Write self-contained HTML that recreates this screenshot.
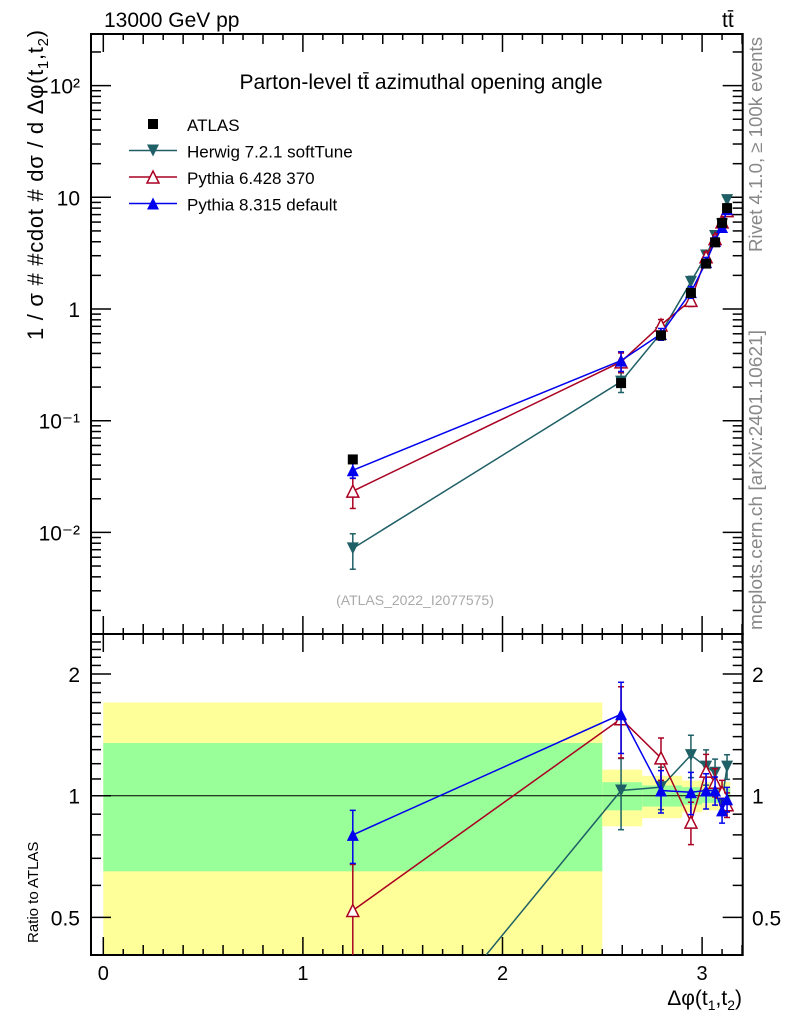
<!DOCTYPE html>
<html><head><meta charset="utf-8">
<style>
html,body{margin:0;padding:0;background:#fff;width:786px;height:1024px;overflow:hidden;}
svg{display:block;font-family:"Liberation Sans",sans-serif;}
</style></head>
<body>
<div style="position:relative;width:786px;height:1024px;overflow:hidden;">
<svg id="chart" width="786" height="1024" viewBox="0 0 786 1024" xmlns="http://www.w3.org/2000/svg" style="position:absolute;left:0;top:0;">
<g id="bands"></g>
<g id="axes"></g>
<g id="series"></g>
<g id="texts"></g>
<text x="104" y="27" font-size="21">13000 GeV pp</text>
<text x="722" y="27" font-size="21">tt̄</text>
<text x="421" y="89" font-size="21" text-anchor="middle">Parton-level tt̄ azimuthal opening angle</text>
<text x="415" y="605" font-size="14" fill="#aaa" text-anchor="middle">(ATLAS_2022_I2077575)</text>
<text transform="translate(43,340) rotate(-90)" x="0" y="0" font-size="22" textLength="310" lengthAdjust="spacing">1 / σ # #cdot # dσ / d Δφ(t<tspan font-size="15" dy="5">1</tspan><tspan dy="-5">,t</tspan><tspan font-size="15" dy="5">2</tspan><tspan dy="-5">)</tspan></text>
<text transform="translate(38,943) rotate(-90)" font-size="15">Ratio to ATLAS</text>
<text x="742" y="1005" font-size="21" text-anchor="end">Δφ(t<tspan font-size="14" dy="5">1</tspan><tspan dy="-5">,t</tspan><tspan font-size="14" dy="5">2</tspan><tspan dy="-5">)</tspan></text>
<text transform="translate(762,252) rotate(-90)" font-size="18" fill="#888" textLength="215" lengthAdjust="spacingAndGlyphs">Rivet 4.1.0, ≥ 100k events</text>
<text transform="translate(762,630) rotate(-90)" font-size="18" fill="#888" textLength="300" lengthAdjust="spacingAndGlyphs">mcplots.cern.ch [arXiv:2401.10621]</text>
</svg>
</div>
<script>
// ---- data ----
const xVals = [1.25, 2.594, 2.794, 2.944, 3.02, 3.065, 3.10, 3.125];
const atlasVals = [0.045, 0.217, 0.58, 1.39, 2.55, 3.95, 5.9, 8.0];
const atlasErr = [0.05, 0.05, 0.04, 0.03, 0.03, 0.03, 0.03, 0.03];
const binEdges = [0, 2.5, 2.7, 2.9, 3.0, 3.05, 3.08, 3.11, 3.1416];
const bandInner = [0.35, 0.08, 0.06, 0.05, 0.04, 0.04, 0.04, 0.04];
const bandOuter = [0.70, 0.16, 0.12, 0.09, 0.08, 0.08, 0.08, 0.08];
const herwigRatio = [0.16, 1.03, 1.05, 1.26, 1.18, 1.14, 0.97, 1.18];
const herwigErr = [0.35, 0.2, 0.12, 0.12, 0.1, 0.08, 0.07, 0.07];
const py6Ratio = [0.52, 1.55, 1.24, 0.86, 1.15, 1.08, 1.02, 0.95];
const py6Err = [0.3, 0.2, 0.12, 0.12, 0.1, 0.08, 0.07, 0.07];
const py8Ratio = [0.80, 1.59, 1.03, 1.02, 1.03, 1.03, 0.92, 0.98];
const py8Err = [0.15, 0.2, 0.12, 0.12, 0.1, 0.08, 0.07, 0.07];
const xTicks = [0, 1, 2, 3];
const yTopTicks = [-2, -1, 0, 1, 2];
const yTopLabels = ["10\u207B\u00B2", "10\u207B\u00B9", "1", "10", "10\u00B2"];
const ratioTicks = [0.5, 1, 2];
const ratioLabels = ["0.5", "1", "2"];

// ---- geometry ----
const L = 91, R = 742.7, T = 34, MID = 634, B = 955;
const X = v => 103.3 + v * 199.6;
const YT = v => 309 - Math.log10(v) * 111.7;
const YR = r => 795.7 - Math.log2(r) * 121.7;
const NS = "http://www.w3.org/2000/svg";
function mk(tag, attrs, parent) {
  const e = document.createElementNS(NS, tag);
  for (const k in attrs) e.setAttribute(k, attrs[k]);
  parent.appendChild(e);
  return e;
}
const bands = document.getElementById('bands');
const axes = document.getElementById('axes');
const series = document.getElementById('series');
const texts = document.getElementById('texts');

const defs = mk('defs', {}, document.getElementById('chart'));
const cp = mk('clipPath', {id: 'clipR'}, defs);
mk('rect', {x: L, y: MID, width: R - L, height: B - MID}, cp);
const cpt = mk('clipPath', {id: 'clipT'}, defs);
mk('rect', {x: L, y: T, width: R - L, height: MID - T}, cpt);
bands.setAttribute('clip-path', 'url(#clipR)');

for (let i = 0; i < bandOuter.length; i++) {
  const x0 = X(binEdges[i]), x1 = X(binEdges[i + 1]);
  const y = mk('rect', {x: x0, y: YR(1 + bandOuter[i]), width: x1 - x0, height: YR(Math.max(1 - bandOuter[i], 0.05)) - YR(1 + bandOuter[i]), fill: '#ffff99'}, bands);
  
  
  const g = mk('rect', {x: x0, y: YR(1 + bandInner[i]), width: x1 - x0, height: YR(1 - bandInner[i]) - YR(1 + bandInner[i]), fill: '#99ff99'}, bands);
  
  
}
mk('line', {x1: L, x2: R, y1: YR(1), y2: YR(1), stroke: '#000', 'stroke-width': 1}, bands);

const f1 = mk('rect', {x: L, y: T, width: R - L, height: MID - T, fill: 'none', stroke: '#000', 'stroke-width': 2}, axes);


const f2 = mk('rect', {x: L, y: MID, width: R - L, height: B - MID, fill: 'none', stroke: '#000', 'stroke-width': 2}, axes);



for (let t = 0; t <= 32; t++) {
  const v = t / 10;
  const x = X(v);
  if (x > R) break;
  const len = (t % 10 === 0) ? 18 : (t % 2 === 0 ? 10 : 6);
  [[T, 1], [MID, -1], [MID, 1], [B, -1]].forEach(([y0, d]) => {
    mk('line', {x1: x, x2: x, y1: y0, y2: y0 + d * len, stroke: '#000', 'stroke-width': 1.5}, axes);
  });
}
xTicks.forEach(v => {
  const t = mk('text', {x: X(v), y: 980, 'font-size': 20, 'text-anchor': 'middle'}, texts);
  t.textContent = v;
  
  
});

for (let d = -3; d <= 2; d++) {
  for (let m = 1; m <= 9; m++) {
    const v = m * Math.pow(10, d);
    const y = YT(v);
    if (y < T || y > MID) continue;
    const len = m === 1 ? 20 : 10;
    mk('line', {x1: L, x2: L + len, y1: y, y2: y, stroke: '#000', 'stroke-width': 1.5}, axes);
    mk('line', {x1: R, x2: R - len, y1: y, y2: y, stroke: '#000', 'stroke-width': 1.5}, axes);
  }
}
yTopTicks.forEach((d, i) => {
  const t = mk('text', {x: 80, y: YT(Math.pow(10, d)) + 8, 'font-size': 21, 'text-anchor': 'end'}, texts);
  t.textContent = yTopLabels[i];
  
  
});

for (let k = 3; k <= 24; k++) {
  const v = k / 10;
  const y = YR(v);
  if (y < MID || y > B) continue;
  const len = (k === 5 || k === 10 || k === 20) ? 20 : 10;
  mk('line', {x1: L, x2: L + len, y1: y, y2: y, stroke: '#000', 'stroke-width': 1.5}, axes);
  mk('line', {x1: R, x2: R - len, y1: y, y2: y, stroke: '#000', 'stroke-width': 1.5}, axes);
}
ratioTicks.forEach((v, i) => {
  const t = mk('text', {x: 80, y: YR(v) + 8, 'font-size': 21, 'text-anchor': 'end'}, texts);
  t.textContent = ratioLabels[i];
  
  
  const t2 = mk('text', {x: 752, y: YR(v) + 8, 'font-size': 21}, texts);
  t2.textContent = ratioLabels[i];
  
  
});

function marker(kind, x, y, color, parent, s) {
  s = s || 6;
  if (kind === 'square') return mk('rect', {x: x - 5, y: y - 5, width: 10, height: 10, fill: '#000'}, parent);
  if (kind === 'down') return mk('polygon', {points: `${x - s},${y - s} ${x + s},${y - s} ${x},${y + s}`, fill: color}, parent);
  if (kind === 'up') return mk('polygon', {points: `${x - s},${y + s} ${x + s},${y + s} ${x},${y - s}`, fill: color}, parent);
  if (kind === 'upopen') return mk('polygon', {points: `${x - s},${y + s} ${x + s},${y + s} ${x},${y - s}`, fill: '#fff', stroke: color, 'stroke-width': 1.5}, parent);
}

const mcs = [
  {name: 'herwig', ratio: herwigRatio, err: herwigErr, color: '#1f5f66', kind: 'down'},
  {name: 'pythia6', ratio: py6Ratio, err: py6Err, color: '#aa0022', kind: 'upopen'},
  {name: 'pythia8', ratio: py8Ratio, err: py8Err, color: '#0000ee', kind: 'up'}
];

const topG = mk('g', {'clip-path': 'url(#clipT)'}, series);
const ratG = mk('g', {'clip-path': 'url(#clipR)'}, series);
mcs.forEach(mc => {
  const gT = mk('g', {}, topG);
  
  
  const gR = mk('g', {}, ratG);
  
  
  const ptsT = xVals.map((x, i) => `${X(x)},${YT(atlasVals[i] * mc.ratio[i])}`).join(' ');
  mk('polyline', {points: ptsT, fill: 'none', stroke: mc.color, 'stroke-width': 1.5}, gT);
  const ptsR = xVals.map((x, i) => `${X(x)},${YR(mc.ratio[i])}`).join(' ');
  mk('polyline', {points: ptsR, fill: 'none', stroke: mc.color, 'stroke-width': 1.5}, gR);
  xVals.forEach((x, i) => {
    const v = atlasVals[i] * mc.ratio[i], e = mc.err[i];
    const xx = X(x);
    [[gT, YT(v * (1 + e)), YT(v * (1 - e)), YT(v)], [gR, YR(mc.ratio[i] * (1 + e)), YR(mc.ratio[i] * (1 - e)), YR(mc.ratio[i])]].forEach(([g, y1, y2, yc]) => {
      mk('line', {x1: xx, x2: xx, y1: y1, y2: y2, stroke: mc.color, 'stroke-width': 1.5}, g);
      mk('line', {x1: xx - 3, x2: xx + 3, y1: y1, y2: y1, stroke: mc.color, 'stroke-width': 1.5}, g);
      mk('line', {x1: xx - 3, x2: xx + 3, y1: y2, y2: y2, stroke: mc.color, 'stroke-width': 1.5}, g);
      const m = marker(mc.kind, xx, yc, mc.color, g);
      
      
    });
  });
});
const gA = mk('g', {}, series);


xVals.forEach((x, i) => {
  const v = atlasVals[i];
  mk('line', {x1: X(x), x2: X(x), y1: YT(v * (1 + atlasErr[i])), y2: YT(v * (1 - atlasErr[i])), stroke: '#000', 'stroke-width': 1.5}, gA);
  const m = marker('square', X(x), YT(v), '#000', gA);
  
  
});

const lg = mk('g', {}, texts);


const legItems = [
  {label: 'ATLAS', kind: 'square', color: '#000', line: false},
  {label: 'Herwig 7.2.1 softTune', kind: 'down', color: '#1f5f66', line: true},
  {label: 'Pythia 6.428 370', kind: 'upopen', color: '#aa0022', line: true},
  {label: 'Pythia 8.315 default', kind: 'up', color: '#0000ee', line: true}
];
legItems.forEach((it, i) => {
  const y = 124 + i * 26.5;
  const e = mk('g', {}, lg);
  
  
  if (it.line) mk('line', {x1: 129, x2: 177, y1: y, y2: y, stroke: it.color, 'stroke-width': 1.5}, e);
  marker(it.kind, 153, y, it.color, e);
  const t = mk('text', {x: 187, y: y + 7, 'font-size': 17}, e);
  t.textContent = it.label;
});
</script>
</body></html>
